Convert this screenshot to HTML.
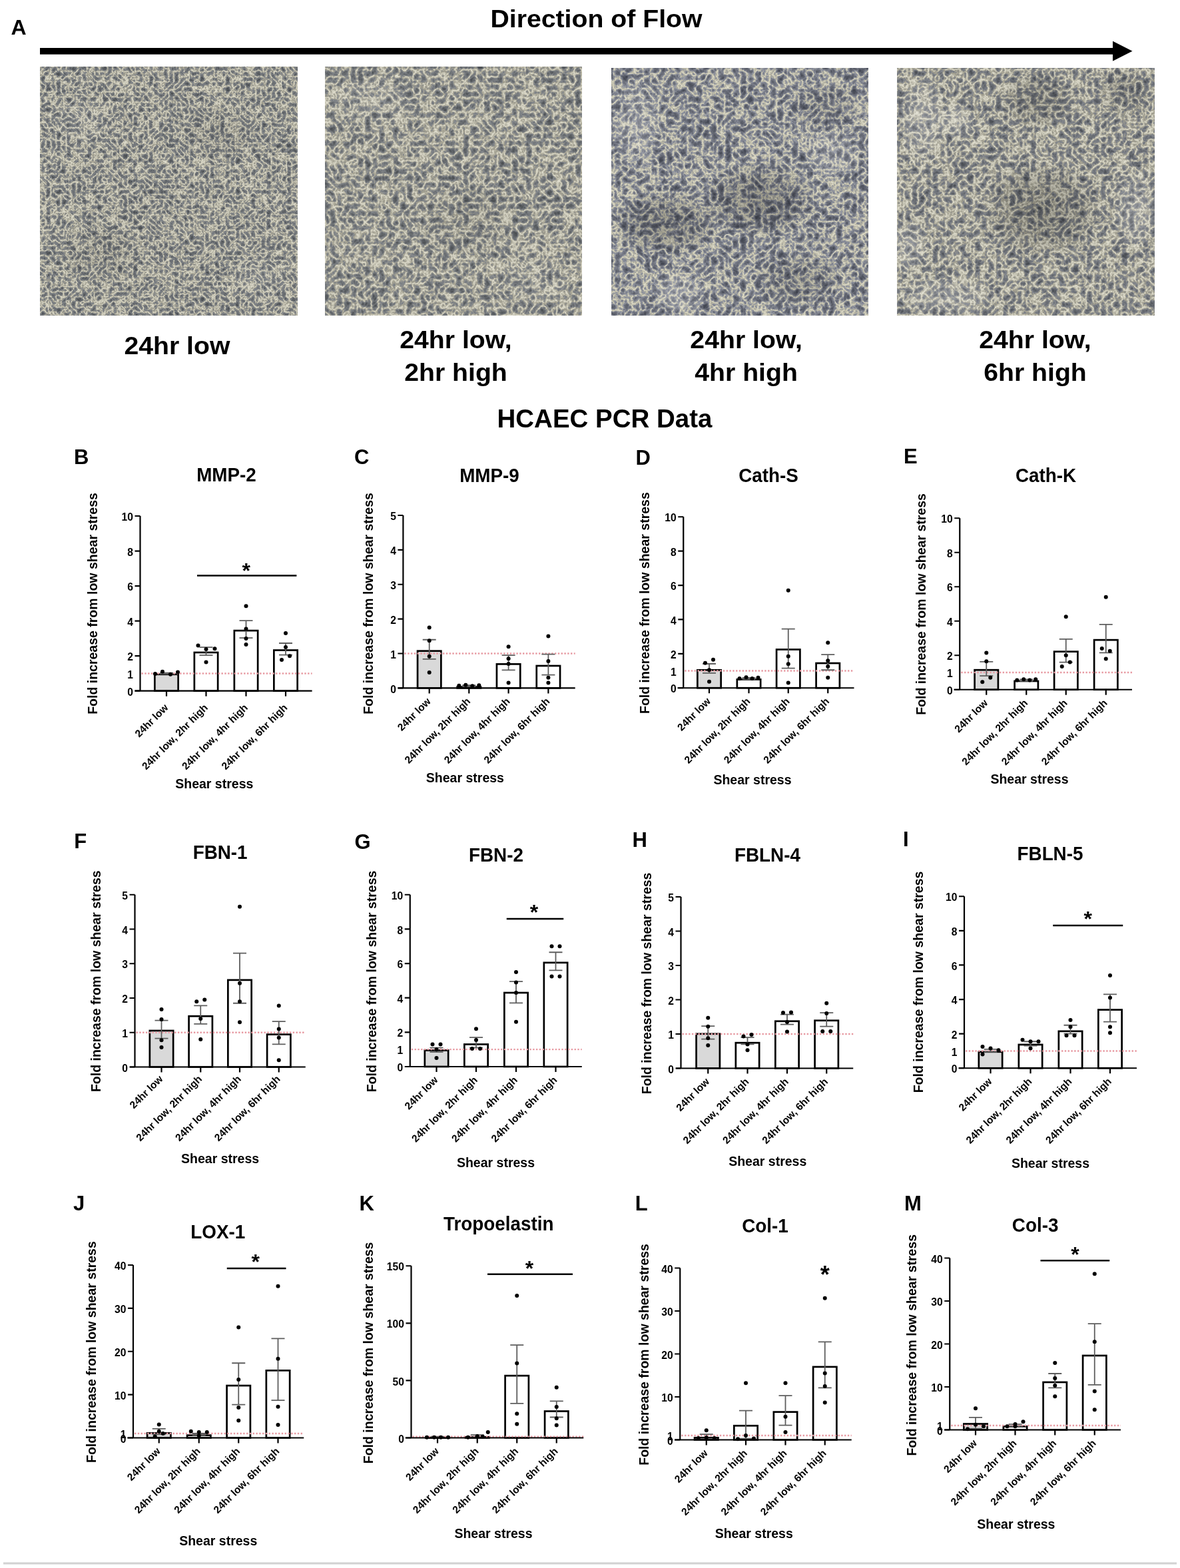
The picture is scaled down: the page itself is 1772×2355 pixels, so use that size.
<!DOCTYPE html>
<html><head><meta charset="utf-8"><title>HCAEC shear stress figure</title>
<style>
html,body{margin:0;padding:0;background:#fff;}
body{width:1772px;height:2355px;overflow:hidden;position:relative;}
svg{position:absolute;left:0;top:0;}
text{font-family:"Liberation Sans", Arial, Helvetica, sans-serif;}
</style></head><body>
<svg width="1772" height="2355" viewBox="0 0 1772 2355">
<defs>
<radialGradient id="bld"><stop offset="0" stop-color="#000" stop-opacity="0.5"/><stop offset="0.6" stop-color="#000" stop-opacity="0.3"/><stop offset="1" stop-color="#000" stop-opacity="0"/></radialGradient>
<radialGradient id="bll"><stop offset="0" stop-color="#fff" stop-opacity="0.5"/><stop offset="0.6" stop-color="#fff" stop-opacity="0.3"/><stop offset="1" stop-color="#fff" stop-opacity="0"/></radialGradient>
<clipPath id="clip0"><rect x="60" y="100" width="387" height="374"/></clipPath>
<filter id="mic0" x="60" y="100" width="387" height="374" filterUnits="userSpaceOnUse" color-interpolation-filters="sRGB">
<feTurbulence type="turbulence" baseFrequency="0.13" numOctaves="3" seed="3"/>
<feColorMatrix type="matrix" values="0 0 0 1.25 0  0 0 0 1.25 0  0 0 0 1.25 0  0 0 0 0 1"/>
<feComponentTransfer><feFuncR type="table" tableValues="0.910 0.840 0.730 0.630 0.525 0.465 0.415 0.365 0.325 0.295"/><feFuncG type="table" tableValues="0.900 0.830 0.720 0.620 0.540 0.480 0.430 0.380 0.340 0.310"/><feFuncB type="table" tableValues="0.840 0.770 0.660 0.560 0.555 0.495 0.445 0.395 0.355 0.325"/></feComponentTransfer>
<feGaussianBlur stdDeviation="0.45"/>
</filter>
<clipPath id="clip1"><rect x="488" y="100" width="386" height="374"/></clipPath>
<filter id="mic1" x="488" y="100" width="386" height="374" filterUnits="userSpaceOnUse" color-interpolation-filters="sRGB">
<feTurbulence type="turbulence" baseFrequency="0.095" numOctaves="3" seed="7"/>
<feColorMatrix type="matrix" values="0 0 0 1.2 0  0 0 0 1.2 0  0 0 0 1.2 0  0 0 0 0 1"/>
<feComponentTransfer><feFuncR type="table" tableValues="0.910 0.840 0.730 0.630 0.525 0.465 0.415 0.365 0.325 0.295"/><feFuncG type="table" tableValues="0.900 0.830 0.720 0.620 0.540 0.480 0.430 0.380 0.340 0.310"/><feFuncB type="table" tableValues="0.840 0.770 0.660 0.560 0.555 0.495 0.445 0.395 0.355 0.325"/></feComponentTransfer>
<feGaussianBlur stdDeviation="0.45"/>
</filter>
<clipPath id="clip2"><rect x="918" y="102" width="386" height="372"/></clipPath>
<filter id="mic2" x="918" y="102" width="386" height="372" filterUnits="userSpaceOnUse" color-interpolation-filters="sRGB">
<feTurbulence type="turbulence" baseFrequency="0.09" numOctaves="3" seed="4"/>
<feColorMatrix type="matrix" values="0 0 0 1.25 0  0 0 0 1.25 0  0 0 0 1.25 0  0 0 0 0 1"/>
<feComponentTransfer><feFuncR type="table" tableValues="0.910 0.830 0.710 0.575 0.485 0.425 0.375 0.335 0.295 0.265"/><feFuncG type="table" tableValues="0.900 0.820 0.700 0.590 0.500 0.440 0.390 0.350 0.310 0.280"/><feFuncB type="table" tableValues="0.830 0.750 0.630 0.635 0.545 0.485 0.435 0.395 0.355 0.325"/></feComponentTransfer>
<feGaussianBlur stdDeviation="0.45"/>
</filter>
<clipPath id="clip3"><rect x="1347" y="102" width="387" height="372"/></clipPath>
<filter id="mic3" x="1347" y="102" width="387" height="372" filterUnits="userSpaceOnUse" color-interpolation-filters="sRGB">
<feTurbulence type="turbulence" baseFrequency="0.095" numOctaves="3" seed="6"/>
<feColorMatrix type="matrix" values="0 0 0 1.2 0  0 0 0 1.2 0  0 0 0 1.2 0  0 0 0 0 1"/>
<feComponentTransfer><feFuncR type="table" tableValues="0.910 0.840 0.730 0.620 0.515 0.455 0.405 0.355 0.315 0.285"/><feFuncG type="table" tableValues="0.900 0.830 0.720 0.610 0.530 0.470 0.420 0.370 0.330 0.300"/><feFuncB type="table" tableValues="0.840 0.770 0.660 0.550 0.555 0.495 0.445 0.395 0.355 0.325"/></feComponentTransfer>
<feGaussianBlur stdDeviation="0.45"/>
</filter>
</defs>
<rect width="1772" height="2355" fill="#fff"/>
<text x="16.50" y="52.00" font-size="32" text-anchor="start" font-weight="bold" fill="#000" >A</text>
<text x="895.50" y="41.20" font-size="37" text-anchor="middle" font-weight="bold" fill="#000" transform="translate(895.5 0) scale(1.06 1) translate(-895.5 0)">Direction of Flow</text>
<rect x="60" y="72" width="1612" height="9.7" fill="#000"/>
<polygon points="1671,61.7 1700.5,76.8 1671,91.7" fill="#000"/>
<g clip-path="url(#clip0)">
<rect x="60" y="100" width="387" height="374" filter="url(#mic0)"/>
<ellipse cx="150" cy="380" rx="70" ry="50" fill="url(#bld)" opacity="0.140"/>
<ellipse cx="330" cy="200" rx="60" ry="50" fill="url(#bld)" opacity="0.120"/>
<ellipse cx="120" cy="180" rx="50" ry="40" fill="url(#bll)" opacity="0.140"/>
<ellipse cx="390" cy="420" rx="50" ry="40" fill="url(#bll)" opacity="0.140"/>
</g>
<g clip-path="url(#clip1)">
<rect x="488" y="100" width="386" height="374" filter="url(#mic1)"/>
<ellipse cx="560" cy="150" rx="70" ry="40" fill="url(#bll)" opacity="0.180"/>
<ellipse cx="700" cy="330" rx="80" ry="60" fill="url(#bld)" opacity="0.120"/>
<ellipse cx="800" cy="420" rx="60" ry="40" fill="url(#bll)" opacity="0.120"/>
</g>
<g clip-path="url(#clip2)">
<rect x="918" y="102" width="386" height="372" filter="url(#mic2)"/>
<ellipse cx="1000" cy="335" rx="85" ry="50" fill="url(#bld)" opacity="0.440"/>
<ellipse cx="1140" cy="300" rx="90" ry="60" fill="url(#bld)" opacity="0.440"/>
<ellipse cx="1200" cy="420" rx="70" ry="45" fill="url(#bld)" opacity="0.280"/>
<ellipse cx="1240" cy="160" rx="60" ry="40" fill="url(#bld)" opacity="0.200"/>
<ellipse cx="955" cy="185" rx="40" ry="75" fill="url(#bll)" opacity="0.320"/>
<ellipse cx="1020" cy="440" rx="45" ry="35" fill="url(#bll)" opacity="0.360"/>
<ellipse cx="1250" cy="230" rx="45" ry="40" fill="url(#bll)" opacity="0.320"/>
</g>
<g clip-path="url(#clip3)">
<rect x="1347" y="102" width="387" height="372" filter="url(#mic3)"/>
<ellipse cx="1565" cy="315" rx="95" ry="75" fill="url(#bld)" opacity="0.440"/>
<ellipse cx="1555" cy="150" rx="65" ry="45" fill="url(#bld)" opacity="0.320"/>
<ellipse cx="1690" cy="140" rx="45" ry="40" fill="url(#bld)" opacity="0.240"/>
<ellipse cx="1385" cy="180" rx="40" ry="70" fill="url(#bll)" opacity="0.400"/>
<ellipse cx="1437" cy="182" rx="30" ry="30" fill="url(#bll)" opacity="0.400"/>
<ellipse cx="1365" cy="368" rx="30" ry="45" fill="url(#bll)" opacity="0.360"/>
<ellipse cx="1705" cy="315" rx="35" ry="65" fill="url(#bll)" opacity="0.400"/>
<ellipse cx="1420" cy="445" rx="80" ry="32" fill="url(#bll)" opacity="0.360"/>
</g>
<text x="265.90" y="532.30" font-size="37" text-anchor="middle" font-weight="bold" fill="#000" transform="translate(265.9 0) scale(1.06 1) translate(-265.9 0)">24hr low</text>
<text x="684.50" y="523.50" font-size="37" text-anchor="middle" font-weight="bold" fill="#000" transform="translate(684.5 0) scale(1.06 1) translate(-684.5 0)">24hr low,</text>
<text x="684.50" y="572.10" font-size="37" text-anchor="middle" font-weight="bold" fill="#000" transform="translate(684.5 0) scale(1.06 1) translate(-684.5 0)">2hr high</text>
<text x="1120.60" y="523.50" font-size="37" text-anchor="middle" font-weight="bold" fill="#000" transform="translate(1120.6 0) scale(1.06 1) translate(-1120.6 0)">24hr low,</text>
<text x="1120.60" y="572.10" font-size="37" text-anchor="middle" font-weight="bold" fill="#000" transform="translate(1120.6 0) scale(1.06 1) translate(-1120.6 0)">4hr high</text>
<text x="1554.50" y="523.50" font-size="37" text-anchor="middle" font-weight="bold" fill="#000" transform="translate(1554.5 0) scale(1.06 1) translate(-1554.5 0)">24hr low,</text>
<text x="1554.50" y="572.10" font-size="37" text-anchor="middle" font-weight="bold" fill="#000" transform="translate(1554.5 0) scale(1.06 1) translate(-1554.5 0)">6hr high</text>
<text x="908.00" y="641.50" font-size="38.5" text-anchor="middle" font-weight="bold" fill="#000" >HCAEC PCR Data</text>
<text x="111.00" y="697.00" font-size="31" text-anchor="start" font-weight="bold" fill="#000" >B</text>
<text x="340.00" y="723.50" font-size="29" text-anchor="middle" font-weight="bold" fill="#000" transform="translate(340.00 0) scale(0.96 1) translate(-340.00 0)">MMP-2</text>
<rect x="232.35" y="1012.78" width="35.30" height="24.92" fill="#d9d9d9" stroke="#000" stroke-width="2.7"/>
<rect x="291.85" y="979.94" width="35.30" height="57.76" fill="#fff" stroke="#000" stroke-width="2.7"/>
<rect x="351.85" y="947.11" width="35.30" height="90.60" fill="#fff" stroke="#000" stroke-width="2.7"/>
<rect x="411.35" y="976.53" width="35.30" height="61.17" fill="#fff" stroke="#000" stroke-width="2.7"/>
<line x1="212.50" y1="1011.43" x2="468.60" y2="1011.43" stroke="#e79aa2" stroke-width="2.4" stroke-dasharray="2.4 2.4"/>
<path d="M250.00 1012.22V1010.64M240.00 1010.64H260.00M240.00 1012.22H260.00" stroke="#5e5e5e" stroke-width="1.8" fill="none"/>
<path d="M309.50 984.11V972.03M299.50 972.03H319.50M299.50 984.11H319.50" stroke="#5e5e5e" stroke-width="1.8" fill="none"/>
<path d="M369.50 958.10V932.09M359.50 932.09H379.50M359.50 958.10H379.50" stroke="#5e5e5e" stroke-width="1.8" fill="none"/>
<path d="M429.00 983.58V965.98M419.00 965.98H439.00M419.00 983.58H439.00" stroke="#5e5e5e" stroke-width="1.8" fill="none"/>
<circle cx="233.00" cy="1011.96" r="3.0"/>
<circle cx="244.00" cy="1008.80" r="3.0"/>
<circle cx="256.00" cy="1012.74" r="3.0"/>
<circle cx="267.00" cy="1009.59" r="3.0"/>
<circle cx="297.50" cy="969.40" r="3.0"/>
<circle cx="309.50" cy="974.91" r="3.0"/>
<circle cx="322.50" cy="974.13" r="3.0"/>
<circle cx="309.50" cy="994.62" r="3.0"/>
<circle cx="369.50" cy="910.29" r="3.0"/>
<circle cx="369.50" cy="944.44" r="3.0"/>
<circle cx="369.50" cy="958.89" r="3.0"/>
<circle cx="369.50" cy="968.08" r="3.0"/>
<circle cx="429.00" cy="951.01" r="3.0"/>
<circle cx="429.00" cy="972.03" r="3.0"/>
<circle cx="423.00" cy="990.94" r="3.0"/>
<circle cx="435.00" cy="985.16" r="3.0"/>
<path d="M210.50 775.00V1037.70M202.50 1037.70H468.60" stroke="#000" stroke-width="2.2" fill="none"/>
<path d="M202.50 1037.70H210.50M202.50 985.16H210.50M202.50 932.62H210.50M202.50 880.08H210.50M202.50 827.54H210.50M202.50 775.00H210.50" stroke="#000" stroke-width="2.2"/>
<text x="200.00" y="1044.81" font-size="16.5" text-anchor="end" font-weight="bold" fill="#000" transform="translate(200.00 0) scale(0.95 1) translate(-200.00 0)">0</text>
<text x="200.00" y="1018.54" font-size="16.5" text-anchor="end" font-weight="bold" fill="#000" transform="translate(200.00 0) scale(0.95 1) translate(-200.00 0)">1</text>
<text x="200.00" y="992.27" font-size="16.5" text-anchor="end" font-weight="bold" fill="#000" transform="translate(200.00 0) scale(0.95 1) translate(-200.00 0)">2</text>
<text x="200.00" y="939.73" font-size="16.5" text-anchor="end" font-weight="bold" fill="#000" transform="translate(200.00 0) scale(0.95 1) translate(-200.00 0)">4</text>
<text x="200.00" y="887.19" font-size="16.5" text-anchor="end" font-weight="bold" fill="#000" transform="translate(200.00 0) scale(0.95 1) translate(-200.00 0)">6</text>
<text x="200.00" y="834.65" font-size="16.5" text-anchor="end" font-weight="bold" fill="#000" transform="translate(200.00 0) scale(0.95 1) translate(-200.00 0)">8</text>
<text x="200.00" y="782.11" font-size="16.5" text-anchor="end" font-weight="bold" fill="#000" transform="translate(200.00 0) scale(0.95 1) translate(-200.00 0)">10</text>
<path d="M250.00 1037.70V1045.70M309.50 1037.70V1045.70M369.50 1037.70V1045.70M429.00 1037.70V1045.70" stroke="#000" stroke-width="2.2"/>
<text x="253.50" y="1063.70" font-size="15.5" text-anchor="end" font-weight="bold" fill="#000" transform="rotate(-45 253.50 1063.70)">24hr low</text>
<text x="313.00" y="1063.70" font-size="15.5" text-anchor="end" font-weight="bold" fill="#000" transform="rotate(-45 313.00 1063.70)">24hr low, 2hr high</text>
<text x="373.00" y="1063.70" font-size="15.5" text-anchor="end" font-weight="bold" fill="#000" transform="rotate(-45 373.00 1063.70)">24hr low, 4hr high</text>
<text x="432.50" y="1063.70" font-size="15.5" text-anchor="end" font-weight="bold" fill="#000" transform="rotate(-45 432.50 1063.70)">24hr low, 6hr high</text>
<line x1="296" y1="864.5" x2="445.4" y2="864.5" stroke="#000" stroke-width="2.6"/>
<text x="369.70" y="867.80" font-size="32" text-anchor="middle" font-weight="bold" fill="#000" >*</text>
<text x="321.80" y="1183.50" font-size="19.5" text-anchor="middle" font-weight="bold" fill="#000" >Shear stress</text>
<text x="0.00" y="0.00" font-size="19.5" text-anchor="middle" font-weight="bold" fill="#000" transform="translate(146.02 906.50) rotate(-90)">Fold increase from low shear stress</text>
<text x="532.00" y="697.00" font-size="31" text-anchor="start" font-weight="bold" fill="#000" >C</text>
<text x="735.00" y="724.00" font-size="29" text-anchor="middle" font-weight="bold" fill="#000" transform="translate(735.00 0) scale(0.96 1) translate(-735.00 0)">MMP-9</text>
<rect x="627.05" y="977.68" width="35.30" height="55.72" fill="#d9d9d9" stroke="#000" stroke-width="2.7"/>
<rect x="686.65" y="1031.64" width="35.30" height="1.76" fill="#fff" stroke="#000" stroke-width="2.7"/>
<rect x="745.95" y="997.40" width="35.30" height="36.00" fill="#fff" stroke="#000" stroke-width="2.7"/>
<rect x="805.75" y="999.99" width="35.30" height="33.41" fill="#fff" stroke="#000" stroke-width="2.7"/>
<line x1="607.40" y1="981.52" x2="863.70" y2="981.52" stroke="#e79aa2" stroke-width="2.4" stroke-dasharray="2.4 2.4"/>
<path d="M644.70 989.82V960.77M634.70 960.77H654.70M634.70 989.82H654.70" stroke="#5e5e5e" stroke-width="1.8" fill="none"/>
<path d="M704.30 1031.32V1029.25M694.30 1029.25H714.30M694.30 1031.32H714.30" stroke="#5e5e5e" stroke-width="1.8" fill="none"/>
<path d="M763.60 1006.42V984.11M753.60 984.11H773.60M753.60 1006.42H773.60" stroke="#5e5e5e" stroke-width="1.8" fill="none"/>
<path d="M823.40 1013.69V982.56M813.40 982.56H833.40M813.40 1013.69H833.40" stroke="#5e5e5e" stroke-width="1.8" fill="none"/>
<circle cx="644.70" cy="942.61" r="3.0"/>
<circle cx="644.70" cy="962.32" r="3.0"/>
<circle cx="644.70" cy="985.67" r="3.0"/>
<circle cx="644.70" cy="1010.05" r="3.0"/>
<circle cx="689.30" cy="1029.77" r="3.0"/>
<circle cx="699.30" cy="1028.73" r="3.0"/>
<circle cx="709.30" cy="1030.29" r="3.0"/>
<circle cx="719.30" cy="1029.25" r="3.0"/>
<circle cx="763.60" cy="971.14" r="3.0"/>
<circle cx="763.60" cy="989.30" r="3.0"/>
<circle cx="763.60" cy="997.08" r="3.0"/>
<circle cx="763.60" cy="1025.62" r="3.0"/>
<circle cx="823.40" cy="955.58" r="3.0"/>
<circle cx="823.40" cy="992.93" r="3.0"/>
<circle cx="823.40" cy="1017.84" r="3.0"/>
<circle cx="823.40" cy="1025.62" r="3.0"/>
<path d="M605.40 774.00V1033.40M597.60 1033.40H863.70" stroke="#000" stroke-width="2.2" fill="none"/>
<path d="M597.40 1033.40H605.40M597.40 981.52H605.40M597.40 929.64H605.40M597.40 877.76H605.40M597.40 825.88H605.40M597.40 774.00H605.40" stroke="#000" stroke-width="2.2"/>
<text x="594.90" y="1040.51" font-size="16.5" text-anchor="end" font-weight="bold" fill="#000" transform="translate(594.90 0) scale(0.95 1) translate(-594.90 0)">0</text>
<text x="594.90" y="988.63" font-size="16.5" text-anchor="end" font-weight="bold" fill="#000" transform="translate(594.90 0) scale(0.95 1) translate(-594.90 0)">1</text>
<text x="594.90" y="936.75" font-size="16.5" text-anchor="end" font-weight="bold" fill="#000" transform="translate(594.90 0) scale(0.95 1) translate(-594.90 0)">2</text>
<text x="594.90" y="884.87" font-size="16.5" text-anchor="end" font-weight="bold" fill="#000" transform="translate(594.90 0) scale(0.95 1) translate(-594.90 0)">3</text>
<text x="594.90" y="832.99" font-size="16.5" text-anchor="end" font-weight="bold" fill="#000" transform="translate(594.90 0) scale(0.95 1) translate(-594.90 0)">4</text>
<text x="594.90" y="781.11" font-size="16.5" text-anchor="end" font-weight="bold" fill="#000" transform="translate(594.90 0) scale(0.95 1) translate(-594.90 0)">5</text>
<path d="M644.70 1033.40V1041.40M704.30 1033.40V1041.40M763.60 1033.40V1041.40M823.40 1033.40V1041.40" stroke="#000" stroke-width="2.2"/>
<text x="647.70" y="1054.40" font-size="15.5" text-anchor="end" font-weight="bold" fill="#000" transform="rotate(-45 647.70 1054.40)">24hr low</text>
<text x="707.30" y="1054.40" font-size="15.5" text-anchor="end" font-weight="bold" fill="#000" transform="rotate(-45 707.30 1054.40)">24hr low, 2hr high</text>
<text x="766.60" y="1054.40" font-size="15.5" text-anchor="end" font-weight="bold" fill="#000" transform="rotate(-45 766.60 1054.40)">24hr low, 4hr high</text>
<text x="826.40" y="1054.40" font-size="15.5" text-anchor="end" font-weight="bold" fill="#000" transform="rotate(-45 826.40 1054.40)">24hr low, 6hr high</text>
<text x="698.40" y="1175.00" font-size="19.5" text-anchor="middle" font-weight="bold" fill="#000" >Shear stress</text>
<text x="0.00" y="0.00" font-size="19.5" text-anchor="middle" font-weight="bold" fill="#000" transform="translate(560.02 906.50) rotate(-90)">Fold increase from low shear stress</text>
<text x="954.50" y="697.50" font-size="31" text-anchor="start" font-weight="bold" fill="#000" >D</text>
<text x="1154.00" y="723.75" font-size="29" text-anchor="middle" font-weight="bold" fill="#000" transform="translate(1154.00 0) scale(0.96 1) translate(-1154.00 0)">Cath-S</text>
<rect x="1047.35" y="1006.33" width="35.30" height="26.92" fill="#d9d9d9" stroke="#000" stroke-width="2.7"/>
<rect x="1106.85" y="1020.47" width="35.30" height="12.79" fill="#fff" stroke="#000" stroke-width="2.7"/>
<rect x="1166.10" y="975.49" width="35.30" height="57.76" fill="#fff" stroke="#000" stroke-width="2.7"/>
<rect x="1225.60" y="996.05" width="35.30" height="37.20" fill="#fff" stroke="#000" stroke-width="2.7"/>
<line x1="1028.25" y1="1007.55" x2="1282.50" y2="1007.55" stroke="#e79aa2" stroke-width="2.4" stroke-dasharray="2.4 2.4"/>
<path d="M1065.00 1010.89V997.01M1055.00 997.01H1075.00M1055.00 1010.89H1075.00" stroke="#5e5e5e" stroke-width="1.8" fill="none"/>
<path d="M1124.50 1020.40V1017.83M1114.50 1017.83H1134.50M1114.50 1020.40H1134.50" stroke="#5e5e5e" stroke-width="1.8" fill="none"/>
<path d="M1183.75 1003.70V944.59M1173.75 944.59H1193.75M1173.75 1003.70H1193.75" stroke="#5e5e5e" stroke-width="1.8" fill="none"/>
<path d="M1243.25 1006.26V983.13M1233.25 983.13H1253.25M1233.25 1006.26H1253.25" stroke="#5e5e5e" stroke-width="1.8" fill="none"/>
<circle cx="1059.00" cy="995.73" r="3.0"/>
<circle cx="1071.00" cy="990.85" r="3.0"/>
<circle cx="1065.00" cy="1006.26" r="3.0"/>
<circle cx="1065.00" cy="1023.74" r="3.0"/>
<circle cx="1110.50" cy="1019.12" r="3.0"/>
<circle cx="1120.50" cy="1017.32" r="3.0"/>
<circle cx="1129.50" cy="1019.12" r="3.0"/>
<circle cx="1138.50" cy="1017.83" r="3.0"/>
<circle cx="1183.75" cy="886.76" r="3.0"/>
<circle cx="1183.75" cy="985.71" r="3.0"/>
<circle cx="1183.75" cy="997.27" r="3.0"/>
<circle cx="1183.75" cy="1025.54" r="3.0"/>
<circle cx="1243.25" cy="965.14" r="3.0"/>
<circle cx="1243.25" cy="992.13" r="3.0"/>
<circle cx="1243.25" cy="1001.12" r="3.0"/>
<circle cx="1243.25" cy="1017.83" r="3.0"/>
<path d="M1026.25 776.25V1033.25M1017.50 1033.25H1282.50" stroke="#000" stroke-width="2.2" fill="none"/>
<path d="M1018.25 1033.25H1026.25M1018.25 981.85H1026.25M1018.25 930.45H1026.25M1018.25 879.05H1026.25M1018.25 827.65H1026.25M1018.25 776.25H1026.25" stroke="#000" stroke-width="2.2"/>
<text x="1015.75" y="1040.36" font-size="16.5" text-anchor="end" font-weight="bold" fill="#000" transform="translate(1015.75 0) scale(0.95 1) translate(-1015.75 0)">0</text>
<text x="1015.75" y="1014.66" font-size="16.5" text-anchor="end" font-weight="bold" fill="#000" transform="translate(1015.75 0) scale(0.95 1) translate(-1015.75 0)">1</text>
<text x="1015.75" y="988.96" font-size="16.5" text-anchor="end" font-weight="bold" fill="#000" transform="translate(1015.75 0) scale(0.95 1) translate(-1015.75 0)">2</text>
<text x="1015.75" y="937.56" font-size="16.5" text-anchor="end" font-weight="bold" fill="#000" transform="translate(1015.75 0) scale(0.95 1) translate(-1015.75 0)">4</text>
<text x="1015.75" y="886.16" font-size="16.5" text-anchor="end" font-weight="bold" fill="#000" transform="translate(1015.75 0) scale(0.95 1) translate(-1015.75 0)">6</text>
<text x="1015.75" y="834.76" font-size="16.5" text-anchor="end" font-weight="bold" fill="#000" transform="translate(1015.75 0) scale(0.95 1) translate(-1015.75 0)">8</text>
<text x="1015.75" y="783.36" font-size="16.5" text-anchor="end" font-weight="bold" fill="#000" transform="translate(1015.75 0) scale(0.95 1) translate(-1015.75 0)">10</text>
<path d="M1065.00 1033.25V1041.25M1124.50 1033.25V1041.25M1183.75 1033.25V1041.25M1243.25 1033.25V1041.25" stroke="#000" stroke-width="2.2"/>
<text x="1068.00" y="1054.25" font-size="15.5" text-anchor="end" font-weight="bold" fill="#000" transform="rotate(-45 1068.00 1054.25)">24hr low</text>
<text x="1127.50" y="1054.25" font-size="15.5" text-anchor="end" font-weight="bold" fill="#000" transform="rotate(-45 1127.50 1054.25)">24hr low, 2hr high</text>
<text x="1186.75" y="1054.25" font-size="15.5" text-anchor="end" font-weight="bold" fill="#000" transform="rotate(-45 1186.75 1054.25)">24hr low, 4hr high</text>
<text x="1246.25" y="1054.25" font-size="15.5" text-anchor="end" font-weight="bold" fill="#000" transform="rotate(-45 1246.25 1054.25)">24hr low, 6hr high</text>
<text x="1130.00" y="1178.00" font-size="19.5" text-anchor="middle" font-weight="bold" fill="#000" >Shear stress</text>
<text x="0.00" y="0.00" font-size="19.5" text-anchor="middle" font-weight="bold" fill="#000" transform="translate(975.02 905.60) rotate(-90)">Fold increase from low shear stress</text>
<text x="1357.00" y="696.25" font-size="31" text-anchor="start" font-weight="bold" fill="#000" >E</text>
<text x="1570.60" y="723.75" font-size="29" text-anchor="middle" font-weight="bold" fill="#000" transform="translate(1570.60 0) scale(0.96 1) translate(-1570.60 0)">Cath-K</text>
<rect x="1463.60" y="1006.20" width="35.30" height="29.55" fill="#d9d9d9" stroke="#000" stroke-width="2.7"/>
<rect x="1523.60" y="1022.94" width="35.30" height="12.81" fill="#fff" stroke="#000" stroke-width="2.7"/>
<rect x="1583.10" y="978.65" width="35.30" height="57.10" fill="#fff" stroke="#000" stroke-width="2.7"/>
<rect x="1643.10" y="961.14" width="35.30" height="74.61" fill="#fff" stroke="#000" stroke-width="2.7"/>
<line x1="1443.25" y1="1010.00" x2="1700.00" y2="1010.00" stroke="#e79aa2" stroke-width="2.4" stroke-dasharray="2.4 2.4"/>
<path d="M1481.25 1015.15V993.78M1471.25 993.78H1491.25M1471.25 1015.15H1491.25" stroke="#5e5e5e" stroke-width="1.8" fill="none"/>
<path d="M1541.25 1022.88V1020.30M1531.25 1020.30H1551.25M1531.25 1022.88H1551.25" stroke="#5e5e5e" stroke-width="1.8" fill="none"/>
<path d="M1600.75 994.55V959.79M1590.75 959.79H1610.75M1590.75 994.55H1610.75" stroke="#5e5e5e" stroke-width="1.8" fill="none"/>
<path d="M1660.75 980.39V937.90M1650.75 937.90H1670.75M1650.75 980.39H1670.75" stroke="#5e5e5e" stroke-width="1.8" fill="none"/>
<circle cx="1481.25" cy="980.39" r="3.0"/>
<circle cx="1481.25" cy="993.26" r="3.0"/>
<circle cx="1475.25" cy="1024.16" r="3.0"/>
<circle cx="1487.25" cy="1017.73" r="3.0"/>
<circle cx="1527.25" cy="1021.59" r="3.0"/>
<circle cx="1537.25" cy="1020.30" r="3.0"/>
<circle cx="1546.25" cy="1021.59" r="3.0"/>
<circle cx="1555.25" cy="1020.30" r="3.0"/>
<circle cx="1600.75" cy="926.31" r="3.0"/>
<circle cx="1600.75" cy="984.25" r="3.0"/>
<circle cx="1594.75" cy="1000.99" r="3.0"/>
<circle cx="1606.75" cy="994.55" r="3.0"/>
<circle cx="1660.75" cy="896.70" r="3.0"/>
<circle cx="1654.75" cy="973.95" r="3.0"/>
<circle cx="1666.75" cy="977.81" r="3.0"/>
<circle cx="1660.75" cy="989.40" r="3.0"/>
<path d="M1441.25 778.25V1035.75M1432.50 1035.75H1700.00" stroke="#000" stroke-width="2.2" fill="none"/>
<path d="M1433.25 1035.75H1441.25M1433.25 984.25H1441.25M1433.25 932.75H1441.25M1433.25 881.25H1441.25M1433.25 829.75H1441.25M1433.25 778.25H1441.25" stroke="#000" stroke-width="2.2"/>
<text x="1430.75" y="1042.86" font-size="16.5" text-anchor="end" font-weight="bold" fill="#000" transform="translate(1430.75 0) scale(0.95 1) translate(-1430.75 0)">0</text>
<text x="1430.75" y="1017.11" font-size="16.5" text-anchor="end" font-weight="bold" fill="#000" transform="translate(1430.75 0) scale(0.95 1) translate(-1430.75 0)">1</text>
<text x="1430.75" y="991.36" font-size="16.5" text-anchor="end" font-weight="bold" fill="#000" transform="translate(1430.75 0) scale(0.95 1) translate(-1430.75 0)">2</text>
<text x="1430.75" y="939.86" font-size="16.5" text-anchor="end" font-weight="bold" fill="#000" transform="translate(1430.75 0) scale(0.95 1) translate(-1430.75 0)">4</text>
<text x="1430.75" y="888.36" font-size="16.5" text-anchor="end" font-weight="bold" fill="#000" transform="translate(1430.75 0) scale(0.95 1) translate(-1430.75 0)">6</text>
<text x="1430.75" y="836.86" font-size="16.5" text-anchor="end" font-weight="bold" fill="#000" transform="translate(1430.75 0) scale(0.95 1) translate(-1430.75 0)">8</text>
<text x="1430.75" y="785.36" font-size="16.5" text-anchor="end" font-weight="bold" fill="#000" transform="translate(1430.75 0) scale(0.95 1) translate(-1430.75 0)">10</text>
<path d="M1481.25 1035.75V1043.75M1541.25 1035.75V1043.75M1600.75 1035.75V1043.75M1660.75 1035.75V1043.75" stroke="#000" stroke-width="2.2"/>
<text x="1484.25" y="1056.75" font-size="15.5" text-anchor="end" font-weight="bold" fill="#000" transform="rotate(-45 1484.25 1056.75)">24hr low</text>
<text x="1544.25" y="1056.75" font-size="15.5" text-anchor="end" font-weight="bold" fill="#000" transform="rotate(-45 1544.25 1056.75)">24hr low, 2hr high</text>
<text x="1603.75" y="1056.75" font-size="15.5" text-anchor="end" font-weight="bold" fill="#000" transform="rotate(-45 1603.75 1056.75)">24hr low, 4hr high</text>
<text x="1663.75" y="1056.75" font-size="15.5" text-anchor="end" font-weight="bold" fill="#000" transform="rotate(-45 1663.75 1056.75)">24hr low, 6hr high</text>
<text x="1546.00" y="1177.00" font-size="19.5" text-anchor="middle" font-weight="bold" fill="#000" >Shear stress</text>
<text x="0.00" y="0.00" font-size="19.5" text-anchor="middle" font-weight="bold" fill="#000" transform="translate(1389.52 907.50) rotate(-90)">Fold increase from low shear stress</text>
<text x="111.25" y="1273.75" font-size="31" text-anchor="start" font-weight="bold" fill="#000" >F</text>
<text x="330.60" y="1290.00" font-size="29" text-anchor="middle" font-weight="bold" fill="#000" transform="translate(330.60 0) scale(0.96 1) translate(-330.60 0)">FBN-1</text>
<rect x="224.85" y="1547.96" width="35.30" height="54.54" fill="#d9d9d9" stroke="#000" stroke-width="2.7"/>
<rect x="283.60" y="1526.22" width="35.30" height="76.28" fill="#fff" stroke="#000" stroke-width="2.7"/>
<rect x="342.35" y="1471.89" width="35.30" height="130.61" fill="#fff" stroke="#000" stroke-width="2.7"/>
<rect x="401.10" y="1553.65" width="35.30" height="48.85" fill="#fff" stroke="#000" stroke-width="2.7"/>
<line x1="204.50" y1="1550.75" x2="458.75" y2="1550.75" stroke="#e79aa2" stroke-width="2.4" stroke-dasharray="2.4 2.4"/>
<path d="M242.50 1559.55V1532.64M232.50 1532.64H252.50M232.50 1559.55H252.50" stroke="#5e5e5e" stroke-width="1.8" fill="none"/>
<path d="M301.25 1537.81V1510.38M291.25 1510.38H311.25M291.25 1537.81H311.25" stroke="#5e5e5e" stroke-width="1.8" fill="none"/>
<path d="M360.00 1506.76V1431.72M350.00 1431.72H370.00M350.00 1506.76H370.00" stroke="#5e5e5e" stroke-width="1.8" fill="none"/>
<path d="M418.75 1568.35V1534.19M408.75 1534.19H428.75M408.75 1568.35H428.75" stroke="#5e5e5e" stroke-width="1.8" fill="none"/>
<circle cx="242.50" cy="1516.08" r="3.0"/>
<circle cx="242.50" cy="1531.09" r="3.0"/>
<circle cx="242.50" cy="1562.13" r="3.0"/>
<circle cx="242.50" cy="1573.00" r="3.0"/>
<circle cx="295.25" cy="1504.17" r="3.0"/>
<circle cx="307.25" cy="1501.59" r="3.0"/>
<circle cx="301.25" cy="1530.05" r="3.0"/>
<circle cx="301.25" cy="1561.10" r="3.0"/>
<circle cx="360.00" cy="1361.86" r="3.0"/>
<circle cx="360.00" cy="1476.75" r="3.0"/>
<circle cx="360.00" cy="1504.17" r="3.0"/>
<circle cx="360.00" cy="1535.22" r="3.0"/>
<circle cx="418.75" cy="1510.38" r="3.0"/>
<circle cx="418.75" cy="1545.58" r="3.0"/>
<circle cx="418.75" cy="1558.51" r="3.0"/>
<circle cx="418.75" cy="1592.15" r="3.0"/>
<path d="M202.50 1343.75V1602.50M195.00 1602.50H458.75" stroke="#000" stroke-width="2.2" fill="none"/>
<path d="M194.50 1602.50H202.50M194.50 1550.75H202.50M194.50 1499.00H202.50M194.50 1447.25H202.50M194.50 1395.50H202.50M194.50 1343.75H202.50" stroke="#000" stroke-width="2.2"/>
<text x="192.00" y="1609.61" font-size="16.5" text-anchor="end" font-weight="bold" fill="#000" transform="translate(192.00 0) scale(0.95 1) translate(-192.00 0)">0</text>
<text x="192.00" y="1557.86" font-size="16.5" text-anchor="end" font-weight="bold" fill="#000" transform="translate(192.00 0) scale(0.95 1) translate(-192.00 0)">1</text>
<text x="192.00" y="1506.11" font-size="16.5" text-anchor="end" font-weight="bold" fill="#000" transform="translate(192.00 0) scale(0.95 1) translate(-192.00 0)">2</text>
<text x="192.00" y="1454.36" font-size="16.5" text-anchor="end" font-weight="bold" fill="#000" transform="translate(192.00 0) scale(0.95 1) translate(-192.00 0)">3</text>
<text x="192.00" y="1402.61" font-size="16.5" text-anchor="end" font-weight="bold" fill="#000" transform="translate(192.00 0) scale(0.95 1) translate(-192.00 0)">4</text>
<text x="192.00" y="1350.86" font-size="16.5" text-anchor="end" font-weight="bold" fill="#000" transform="translate(192.00 0) scale(0.95 1) translate(-192.00 0)">5</text>
<path d="M242.50 1602.50V1610.50M301.25 1602.50V1610.50M360.00 1602.50V1610.50M418.75 1602.50V1610.50" stroke="#000" stroke-width="2.2"/>
<text x="245.50" y="1621.50" font-size="15.5" text-anchor="end" font-weight="bold" fill="#000" transform="rotate(-45 245.50 1621.50)">24hr low</text>
<text x="304.25" y="1621.50" font-size="15.5" text-anchor="end" font-weight="bold" fill="#000" transform="rotate(-45 304.25 1621.50)">24hr low, 2hr high</text>
<text x="363.00" y="1621.50" font-size="15.5" text-anchor="end" font-weight="bold" fill="#000" transform="rotate(-45 363.00 1621.50)">24hr low, 4hr high</text>
<text x="421.75" y="1621.50" font-size="15.5" text-anchor="end" font-weight="bold" fill="#000" transform="rotate(-45 421.75 1621.50)">24hr low, 6hr high</text>
<text x="330.60" y="1746.75" font-size="19.5" text-anchor="middle" font-weight="bold" fill="#000" >Shear stress</text>
<text x="0.00" y="0.00" font-size="19.5" text-anchor="middle" font-weight="bold" fill="#000" transform="translate(151.42 1473.75) rotate(-90)">Fold increase from low shear stress</text>
<text x="532.50" y="1274.50" font-size="31" text-anchor="start" font-weight="bold" fill="#000" >G</text>
<text x="745.00" y="1293.75" font-size="29" text-anchor="middle" font-weight="bold" fill="#000" transform="translate(745.00 0) scale(0.96 1) translate(-745.00 0)">FBN-2</text>
<rect x="637.85" y="1577.52" width="35.30" height="24.47" fill="#d9d9d9" stroke="#000" stroke-width="2.7"/>
<rect x="697.35" y="1568.49" width="35.30" height="33.51" fill="#fff" stroke="#000" stroke-width="2.7"/>
<rect x="757.35" y="1491.01" width="35.30" height="110.99" fill="#fff" stroke="#000" stroke-width="2.7"/>
<rect x="816.85" y="1445.82" width="35.30" height="156.18" fill="#fff" stroke="#000" stroke-width="2.7"/>
<line x1="617.75" y1="1576.17" x2="873.75" y2="1576.17" stroke="#e79aa2" stroke-width="2.4" stroke-dasharray="2.4 2.4"/>
<path d="M655.50 1580.05V1573.59M645.50 1573.59H665.50M645.50 1580.05H665.50" stroke="#5e5e5e" stroke-width="1.8" fill="none"/>
<path d="M715.00 1573.59V1558.10M705.00 1558.10H725.00M705.00 1573.59H725.00" stroke="#5e5e5e" stroke-width="1.8" fill="none"/>
<path d="M775.00 1506.45V1474.17M765.00 1474.17H785.00M765.00 1506.45H785.00" stroke="#5e5e5e" stroke-width="1.8" fill="none"/>
<path d="M834.50 1457.38V1430.26M824.50 1430.26H844.50M824.50 1457.38H844.50" stroke="#5e5e5e" stroke-width="1.8" fill="none"/>
<circle cx="649.50" cy="1568.43" r="3.0"/>
<circle cx="661.50" cy="1568.43" r="3.0"/>
<circle cx="655.50" cy="1576.17" r="3.0"/>
<circle cx="655.50" cy="1589.09" r="3.0"/>
<circle cx="715.00" cy="1545.18" r="3.0"/>
<circle cx="715.00" cy="1561.97" r="3.0"/>
<circle cx="709.00" cy="1574.88" r="3.0"/>
<circle cx="721.00" cy="1574.88" r="3.0"/>
<circle cx="775.00" cy="1459.96" r="3.0"/>
<circle cx="775.00" cy="1475.46" r="3.0"/>
<circle cx="775.00" cy="1490.95" r="3.0"/>
<circle cx="775.00" cy="1534.86" r="3.0"/>
<circle cx="828.50" cy="1421.22" r="3.0"/>
<circle cx="840.50" cy="1421.22" r="3.0"/>
<circle cx="828.50" cy="1466.42" r="3.0"/>
<circle cx="840.50" cy="1466.42" r="3.0"/>
<path d="M615.75 1343.75V1602.00M608.75 1602.00H873.75" stroke="#000" stroke-width="2.2" fill="none"/>
<path d="M607.75 1602.00H615.75M607.75 1550.35H615.75M607.75 1498.70H615.75M607.75 1447.05H615.75M607.75 1395.40H615.75M607.75 1343.75H615.75" stroke="#000" stroke-width="2.2"/>
<text x="605.25" y="1609.11" font-size="16.5" text-anchor="end" font-weight="bold" fill="#000" transform="translate(605.25 0) scale(0.95 1) translate(-605.25 0)">0</text>
<text x="605.25" y="1583.28" font-size="16.5" text-anchor="end" font-weight="bold" fill="#000" transform="translate(605.25 0) scale(0.95 1) translate(-605.25 0)">1</text>
<text x="605.25" y="1557.46" font-size="16.5" text-anchor="end" font-weight="bold" fill="#000" transform="translate(605.25 0) scale(0.95 1) translate(-605.25 0)">2</text>
<text x="605.25" y="1505.81" font-size="16.5" text-anchor="end" font-weight="bold" fill="#000" transform="translate(605.25 0) scale(0.95 1) translate(-605.25 0)">4</text>
<text x="605.25" y="1454.16" font-size="16.5" text-anchor="end" font-weight="bold" fill="#000" transform="translate(605.25 0) scale(0.95 1) translate(-605.25 0)">6</text>
<text x="605.25" y="1402.51" font-size="16.5" text-anchor="end" font-weight="bold" fill="#000" transform="translate(605.25 0) scale(0.95 1) translate(-605.25 0)">8</text>
<text x="605.25" y="1350.86" font-size="16.5" text-anchor="end" font-weight="bold" fill="#000" transform="translate(605.25 0) scale(0.95 1) translate(-605.25 0)">10</text>
<path d="M655.50 1602.00V1610.00M715.00 1602.00V1610.00M775.00 1602.00V1610.00M834.50 1602.00V1610.00" stroke="#000" stroke-width="2.2"/>
<text x="658.50" y="1623.00" font-size="15.5" text-anchor="end" font-weight="bold" fill="#000" transform="rotate(-45 658.50 1623.00)">24hr low</text>
<text x="718.00" y="1623.00" font-size="15.5" text-anchor="end" font-weight="bold" fill="#000" transform="rotate(-45 718.00 1623.00)">24hr low, 2hr high</text>
<text x="778.00" y="1623.00" font-size="15.5" text-anchor="end" font-weight="bold" fill="#000" transform="rotate(-45 778.00 1623.00)">24hr low, 4hr high</text>
<text x="837.50" y="1623.00" font-size="15.5" text-anchor="end" font-weight="bold" fill="#000" transform="rotate(-45 837.50 1623.00)">24hr low, 6hr high</text>
<line x1="760.75" y1="1380" x2="846.25" y2="1380" stroke="#000" stroke-width="2.6"/>
<text x="802.00" y="1381.25" font-size="32" text-anchor="middle" font-weight="bold" fill="#000" >*</text>
<text x="744.50" y="1752.50" font-size="19.5" text-anchor="middle" font-weight="bold" fill="#000" >Shear stress</text>
<text x="0.00" y="0.00" font-size="19.5" text-anchor="middle" font-weight="bold" fill="#000" transform="translate(564.52 1474.00) rotate(-90)">Fold increase from low shear stress</text>
<text x="949.50" y="1272.00" font-size="31" text-anchor="start" font-weight="bold" fill="#000" >H</text>
<text x="1152.50" y="1293.75" font-size="29" text-anchor="middle" font-weight="bold" fill="#000" transform="translate(1152.50 0) scale(0.96 1) translate(-1152.50 0)">FBLN-4</text>
<rect x="1045.60" y="1552.80" width="35.30" height="51.70" fill="#d9d9d9" stroke="#000" stroke-width="2.7"/>
<rect x="1104.85" y="1566.19" width="35.30" height="38.30" fill="#fff" stroke="#000" stroke-width="2.7"/>
<rect x="1164.35" y="1533.75" width="35.30" height="70.75" fill="#fff" stroke="#000" stroke-width="2.7"/>
<rect x="1223.60" y="1532.72" width="35.30" height="71.78" fill="#fff" stroke="#000" stroke-width="2.7"/>
<line x1="1024.50" y1="1553.00" x2="1281.25" y2="1553.00" stroke="#e79aa2" stroke-width="2.4" stroke-dasharray="2.4 2.4"/>
<path d="M1063.25 1560.72V1541.15M1053.25 1541.15H1073.25M1053.25 1560.72H1073.25" stroke="#5e5e5e" stroke-width="1.8" fill="none"/>
<path d="M1122.50 1568.45V1558.15M1112.50 1558.15H1132.50M1112.50 1568.45H1132.50" stroke="#5e5e5e" stroke-width="1.8" fill="none"/>
<path d="M1182.00 1538.58V1523.64M1172.00 1523.64H1192.00M1172.00 1538.58H1192.00" stroke="#5e5e5e" stroke-width="1.8" fill="none"/>
<path d="M1241.25 1541.67V1521.07M1231.25 1521.07H1251.25M1231.25 1541.67H1251.25" stroke="#5e5e5e" stroke-width="1.8" fill="none"/>
<circle cx="1063.25" cy="1528.80" r="3.0"/>
<circle cx="1063.25" cy="1541.67" r="3.0"/>
<circle cx="1063.25" cy="1559.18" r="3.0"/>
<circle cx="1063.25" cy="1569.99" r="3.0"/>
<circle cx="1116.50" cy="1556.61" r="3.0"/>
<circle cx="1128.50" cy="1554.03" r="3.0"/>
<circle cx="1122.50" cy="1568.45" r="3.0"/>
<circle cx="1122.50" cy="1577.20" r="3.0"/>
<circle cx="1176.00" cy="1521.07" r="3.0"/>
<circle cx="1188.00" cy="1520.56" r="3.0"/>
<circle cx="1182.00" cy="1534.97" r="3.0"/>
<circle cx="1182.00" cy="1549.39" r="3.0"/>
<circle cx="1241.25" cy="1506.65" r="3.0"/>
<circle cx="1241.25" cy="1522.10" r="3.0"/>
<circle cx="1235.25" cy="1548.88" r="3.0"/>
<circle cx="1247.25" cy="1548.88" r="3.0"/>
<path d="M1022.50 1347.00V1604.50M1015.00 1604.50H1281.25" stroke="#000" stroke-width="2.2" fill="none"/>
<path d="M1014.50 1604.50H1022.50M1014.50 1553.00H1022.50M1014.50 1501.50H1022.50M1014.50 1450.00H1022.50M1014.50 1398.50H1022.50M1014.50 1347.00H1022.50" stroke="#000" stroke-width="2.2"/>
<text x="1012.00" y="1611.61" font-size="16.5" text-anchor="end" font-weight="bold" fill="#000" transform="translate(1012.00 0) scale(0.95 1) translate(-1012.00 0)">0</text>
<text x="1012.00" y="1560.11" font-size="16.5" text-anchor="end" font-weight="bold" fill="#000" transform="translate(1012.00 0) scale(0.95 1) translate(-1012.00 0)">1</text>
<text x="1012.00" y="1508.61" font-size="16.5" text-anchor="end" font-weight="bold" fill="#000" transform="translate(1012.00 0) scale(0.95 1) translate(-1012.00 0)">2</text>
<text x="1012.00" y="1457.11" font-size="16.5" text-anchor="end" font-weight="bold" fill="#000" transform="translate(1012.00 0) scale(0.95 1) translate(-1012.00 0)">3</text>
<text x="1012.00" y="1405.61" font-size="16.5" text-anchor="end" font-weight="bold" fill="#000" transform="translate(1012.00 0) scale(0.95 1) translate(-1012.00 0)">4</text>
<text x="1012.00" y="1354.11" font-size="16.5" text-anchor="end" font-weight="bold" fill="#000" transform="translate(1012.00 0) scale(0.95 1) translate(-1012.00 0)">5</text>
<path d="M1063.25 1604.50V1612.50M1122.50 1604.50V1612.50M1182.00 1604.50V1612.50M1241.25 1604.50V1612.50" stroke="#000" stroke-width="2.2"/>
<text x="1066.25" y="1625.50" font-size="15.5" text-anchor="end" font-weight="bold" fill="#000" transform="rotate(-45 1066.25 1625.50)">24hr low</text>
<text x="1125.50" y="1625.50" font-size="15.5" text-anchor="end" font-weight="bold" fill="#000" transform="rotate(-45 1125.50 1625.50)">24hr low, 2hr high</text>
<text x="1185.00" y="1625.50" font-size="15.5" text-anchor="end" font-weight="bold" fill="#000" transform="rotate(-45 1185.00 1625.50)">24hr low, 4hr high</text>
<text x="1244.25" y="1625.50" font-size="15.5" text-anchor="end" font-weight="bold" fill="#000" transform="rotate(-45 1244.25 1625.50)">24hr low, 6hr high</text>
<text x="1152.75" y="1751.25" font-size="19.5" text-anchor="middle" font-weight="bold" fill="#000" >Shear stress</text>
<text x="0.00" y="0.00" font-size="19.5" text-anchor="middle" font-weight="bold" fill="#000" transform="translate(978.27 1476.90) rotate(-90)">Fold increase from low shear stress</text>
<text x="1356.00" y="1271.00" font-size="31" text-anchor="start" font-weight="bold" fill="#000" >I</text>
<text x="1577.00" y="1292.00" font-size="29" text-anchor="middle" font-weight="bold" fill="#000" transform="translate(1577.00 0) scale(0.96 1) translate(-1577.00 0)">FBLN-5</text>
<rect x="1469.85" y="1579.80" width="35.30" height="24.45" fill="#d9d9d9" stroke="#000" stroke-width="2.7"/>
<rect x="1529.85" y="1568.96" width="35.30" height="35.29" fill="#fff" stroke="#000" stroke-width="2.7"/>
<rect x="1589.85" y="1548.84" width="35.30" height="55.41" fill="#fff" stroke="#000" stroke-width="2.7"/>
<rect x="1649.35" y="1516.59" width="35.30" height="87.66" fill="#fff" stroke="#000" stroke-width="2.7"/>
<line x1="1450.00" y1="1578.45" x2="1707.00" y2="1578.45" stroke="#e79aa2" stroke-width="2.4" stroke-dasharray="2.4 2.4"/>
<path d="M1487.50 1579.74V1575.87M1477.50 1575.87H1497.50M1477.50 1579.74H1497.50" stroke="#5e5e5e" stroke-width="1.8" fill="none"/>
<path d="M1547.50 1570.71V1564.26M1537.50 1564.26H1557.50M1537.50 1570.71H1557.50" stroke="#5e5e5e" stroke-width="1.8" fill="none"/>
<path d="M1607.50 1552.65V1539.75M1597.50 1539.75H1617.50M1597.50 1552.65H1617.50" stroke="#5e5e5e" stroke-width="1.8" fill="none"/>
<path d="M1667.00 1534.59V1493.31M1657.00 1493.31H1677.00M1657.00 1534.59H1677.00" stroke="#5e5e5e" stroke-width="1.8" fill="none"/>
<circle cx="1475.50" cy="1572.00" r="3.0"/>
<circle cx="1487.50" cy="1574.58" r="3.0"/>
<circle cx="1499.50" cy="1577.16" r="3.0"/>
<circle cx="1475.50" cy="1583.61" r="3.0"/>
<circle cx="1535.50" cy="1561.68" r="3.0"/>
<circle cx="1547.50" cy="1564.26" r="3.0"/>
<circle cx="1559.50" cy="1564.26" r="3.0"/>
<circle cx="1547.50" cy="1574.58" r="3.0"/>
<circle cx="1607.50" cy="1532.01" r="3.0"/>
<circle cx="1607.50" cy="1542.33" r="3.0"/>
<circle cx="1601.50" cy="1555.23" r="3.0"/>
<circle cx="1613.50" cy="1555.23" r="3.0"/>
<circle cx="1667.00" cy="1464.93" r="3.0"/>
<circle cx="1667.00" cy="1498.47" r="3.0"/>
<circle cx="1667.00" cy="1542.33" r="3.0"/>
<circle cx="1667.00" cy="1551.36" r="3.0"/>
<path d="M1448.00 1346.25V1604.25M1439.50 1604.25H1707.00" stroke="#000" stroke-width="2.2" fill="none"/>
<path d="M1440.00 1604.25H1448.00M1440.00 1552.65H1448.00M1440.00 1501.05H1448.00M1440.00 1449.45H1448.00M1440.00 1397.85H1448.00M1440.00 1346.25H1448.00" stroke="#000" stroke-width="2.2"/>
<text x="1437.50" y="1611.36" font-size="16.5" text-anchor="end" font-weight="bold" fill="#000" transform="translate(1437.50 0) scale(0.95 1) translate(-1437.50 0)">0</text>
<text x="1437.50" y="1585.56" font-size="16.5" text-anchor="end" font-weight="bold" fill="#000" transform="translate(1437.50 0) scale(0.95 1) translate(-1437.50 0)">1</text>
<text x="1437.50" y="1559.76" font-size="16.5" text-anchor="end" font-weight="bold" fill="#000" transform="translate(1437.50 0) scale(0.95 1) translate(-1437.50 0)">2</text>
<text x="1437.50" y="1508.16" font-size="16.5" text-anchor="end" font-weight="bold" fill="#000" transform="translate(1437.50 0) scale(0.95 1) translate(-1437.50 0)">4</text>
<text x="1437.50" y="1456.56" font-size="16.5" text-anchor="end" font-weight="bold" fill="#000" transform="translate(1437.50 0) scale(0.95 1) translate(-1437.50 0)">6</text>
<text x="1437.50" y="1404.96" font-size="16.5" text-anchor="end" font-weight="bold" fill="#000" transform="translate(1437.50 0) scale(0.95 1) translate(-1437.50 0)">8</text>
<text x="1437.50" y="1353.36" font-size="16.5" text-anchor="end" font-weight="bold" fill="#000" transform="translate(1437.50 0) scale(0.95 1) translate(-1437.50 0)">10</text>
<path d="M1487.50 1604.25V1612.25M1547.50 1604.25V1612.25M1607.50 1604.25V1612.25M1667.00 1604.25V1612.25" stroke="#000" stroke-width="2.2"/>
<text x="1490.50" y="1625.25" font-size="15.5" text-anchor="end" font-weight="bold" fill="#000" transform="rotate(-45 1490.50 1625.25)">24hr low</text>
<text x="1550.50" y="1625.25" font-size="15.5" text-anchor="end" font-weight="bold" fill="#000" transform="rotate(-45 1550.50 1625.25)">24hr low, 2hr high</text>
<text x="1610.50" y="1625.25" font-size="15.5" text-anchor="end" font-weight="bold" fill="#000" transform="rotate(-45 1610.50 1625.25)">24hr low, 4hr high</text>
<text x="1670.00" y="1625.25" font-size="15.5" text-anchor="end" font-weight="bold" fill="#000" transform="rotate(-45 1670.00 1625.25)">24hr low, 6hr high</text>
<line x1="1581.25" y1="1390" x2="1686.25" y2="1390" stroke="#000" stroke-width="2.6"/>
<text x="1633.75" y="1391.25" font-size="32" text-anchor="middle" font-weight="bold" fill="#000" >*</text>
<text x="1577.50" y="1753.75" font-size="19.5" text-anchor="middle" font-weight="bold" fill="#000" >Shear stress</text>
<text x="0.00" y="0.00" font-size="19.5" text-anchor="middle" font-weight="bold" fill="#000" transform="translate(1385.77 1475.00) rotate(-90)">Fold increase from low shear stress</text>
<text x="110.00" y="1818.00" font-size="31" text-anchor="start" font-weight="bold" fill="#000" >J</text>
<text x="327.25" y="1860.50" font-size="29" text-anchor="middle" font-weight="bold" fill="#000" transform="translate(327.25 0) scale(0.96 1) translate(-327.25 0)">LOX-1</text>
<rect x="221.10" y="2152.42" width="35.30" height="7.08" fill="#d9d9d9" stroke="#000" stroke-width="2.7"/>
<rect x="281.10" y="2155.66" width="35.30" height="3.84" fill="#fff" stroke="#000" stroke-width="2.7"/>
<rect x="340.60" y="2081.05" width="35.30" height="78.45" fill="#fff" stroke="#000" stroke-width="2.7"/>
<rect x="399.85" y="2058.35" width="35.30" height="101.15" fill="#fff" stroke="#000" stroke-width="2.7"/>
<line x1="202.00" y1="2153.01" x2="456.25" y2="2153.01" stroke="#e79aa2" stroke-width="2.4" stroke-dasharray="2.4 2.4"/>
<path d="M238.75 2154.31V2145.88M228.75 2145.88H248.75M228.75 2154.31H248.75" stroke="#5e5e5e" stroke-width="1.8" fill="none"/>
<path d="M298.75 2155.61V2153.01M288.75 2153.01H308.75M288.75 2155.61H308.75" stroke="#5e5e5e" stroke-width="1.8" fill="none"/>
<path d="M358.25 2109.55V2047.27M348.25 2047.27H368.25M348.25 2109.55H368.25" stroke="#5e5e5e" stroke-width="1.8" fill="none"/>
<path d="M417.50 2103.06V2010.29M407.50 2010.29H427.50M407.50 2103.06H427.50" stroke="#5e5e5e" stroke-width="1.8" fill="none"/>
<circle cx="238.75" cy="2139.39" r="3.0"/>
<circle cx="238.75" cy="2149.77" r="3.0"/>
<circle cx="244.75" cy="2153.01" r="3.0"/>
<circle cx="232.75" cy="2157.55" r="3.0"/>
<circle cx="286.75" cy="2149.77" r="3.0"/>
<circle cx="298.75" cy="2151.07" r="3.0"/>
<circle cx="310.75" cy="2151.07" r="3.0"/>
<circle cx="298.75" cy="2156.26" r="3.0"/>
<circle cx="358.25" cy="1993.42" r="3.0"/>
<circle cx="358.25" cy="2071.92" r="3.0"/>
<circle cx="358.25" cy="2114.09" r="3.0"/>
<circle cx="358.25" cy="2133.55" r="3.0"/>
<circle cx="417.50" cy="1931.79" r="3.0"/>
<circle cx="417.50" cy="2040.78" r="3.0"/>
<circle cx="417.50" cy="2112.79" r="3.0"/>
<circle cx="417.50" cy="2140.04" r="3.0"/>
<path d="M200.00 1900.00V2159.50M191.25 2159.50H456.25" stroke="#000" stroke-width="2.2" fill="none"/>
<path d="M192.00 2159.50H200.00M192.00 2094.62H200.00M192.00 2029.75H200.00M192.00 1964.88H200.00M192.00 1900.00H200.00" stroke="#000" stroke-width="2.2"/>
<text x="189.50" y="2166.61" font-size="16.5" text-anchor="end" font-weight="bold" fill="#000" transform="translate(189.50 0) scale(0.95 1) translate(-189.50 0)">0</text>
<text x="189.50" y="2160.12" font-size="16.5" text-anchor="end" font-weight="bold" fill="#000" transform="translate(189.50 0) scale(0.95 1) translate(-189.50 0)">1</text>
<text x="189.50" y="2101.73" font-size="16.5" text-anchor="end" font-weight="bold" fill="#000" transform="translate(189.50 0) scale(0.95 1) translate(-189.50 0)">10</text>
<text x="189.50" y="2036.86" font-size="16.5" text-anchor="end" font-weight="bold" fill="#000" transform="translate(189.50 0) scale(0.95 1) translate(-189.50 0)">20</text>
<text x="189.50" y="1971.98" font-size="16.5" text-anchor="end" font-weight="bold" fill="#000" transform="translate(189.50 0) scale(0.95 1) translate(-189.50 0)">30</text>
<text x="189.50" y="1907.11" font-size="16.5" text-anchor="end" font-weight="bold" fill="#000" transform="translate(189.50 0) scale(0.95 1) translate(-189.50 0)">40</text>
<path d="M238.75 2159.50V2167.50M298.75 2159.50V2167.50M358.25 2159.50V2167.50M417.50 2159.50V2167.50" stroke="#000" stroke-width="2.2"/>
<text x="241.75" y="2180.50" font-size="15.5" text-anchor="end" font-weight="bold" fill="#000" transform="rotate(-45 241.75 2180.50)">24hr low</text>
<text x="301.75" y="2180.50" font-size="15.5" text-anchor="end" font-weight="bold" fill="#000" transform="rotate(-45 301.75 2180.50)">24hr low, 2hr high</text>
<text x="361.25" y="2180.50" font-size="15.5" text-anchor="end" font-weight="bold" fill="#000" transform="rotate(-45 361.25 2180.50)">24hr low, 4hr high</text>
<text x="420.50" y="2180.50" font-size="15.5" text-anchor="end" font-weight="bold" fill="#000" transform="rotate(-45 420.50 2180.50)">24hr low, 6hr high</text>
<line x1="340.75" y1="1905" x2="429.5" y2="1905" stroke="#000" stroke-width="2.6"/>
<text x="383.75" y="1906.25" font-size="32" text-anchor="middle" font-weight="bold" fill="#000" >*</text>
<text x="327.75" y="2320.70" font-size="19.5" text-anchor="middle" font-weight="bold" fill="#000" >Shear stress</text>
<text x="0.00" y="0.00" font-size="19.5" text-anchor="middle" font-weight="bold" fill="#000" transform="translate(144.02 2030.60) rotate(-90)">Fold increase from low shear stress</text>
<text x="539.50" y="1818.00" font-size="31" text-anchor="start" font-weight="bold" fill="#000" >K</text>
<text x="748.75" y="1848.00" font-size="29" text-anchor="middle" font-weight="bold" fill="#000" transform="translate(748.75 0) scale(0.96 1) translate(-748.75 0)">Tropoelastin</text>
<rect x="639.35" y="2159.13" width="35.30" height="0.50" fill="#d9d9d9" stroke="#000" stroke-width="2.7"/>
<rect x="699.10" y="2158.27" width="35.30" height="1.23" fill="#fff" stroke="#000" stroke-width="2.7"/>
<rect x="758.60" y="2066.16" width="35.30" height="93.34" fill="#fff" stroke="#000" stroke-width="2.7"/>
<rect x="818.10" y="2119.53" width="35.30" height="39.97" fill="#fff" stroke="#000" stroke-width="2.7"/>
<line x1="619.50" y1="2157.78" x2="876.25" y2="2157.78" stroke="#e79aa2" stroke-width="2.4" stroke-dasharray="2.4 2.4"/>
<path d="M657.00 2157.95V2157.61M647.00 2157.61H667.00M647.00 2157.95H667.00" stroke="#5e5e5e" stroke-width="1.8" fill="none"/>
<path d="M716.75 2158.64V2155.20M706.75 2155.20H726.75M706.75 2158.64H726.75" stroke="#5e5e5e" stroke-width="1.8" fill="none"/>
<path d="M776.25 2107.85V2020.05M766.25 2020.05H786.25M766.25 2107.85H786.25" stroke="#5e5e5e" stroke-width="1.8" fill="none"/>
<path d="M835.75 2128.51V2104.41M825.75 2104.41H845.75M825.75 2128.51H845.75" stroke="#5e5e5e" stroke-width="1.8" fill="none"/>
<circle cx="641.00" cy="2158.64" r="3.0"/>
<circle cx="652.00" cy="2158.64" r="3.0"/>
<circle cx="662.00" cy="2158.64" r="3.0"/>
<circle cx="673.00" cy="2158.64" r="3.0"/>
<circle cx="702.75" cy="2158.64" r="3.0"/>
<circle cx="716.75" cy="2156.92" r="3.0"/>
<circle cx="724.75" cy="2157.78" r="3.0"/>
<circle cx="732.75" cy="2150.89" r="3.0"/>
<circle cx="776.25" cy="1946.01" r="3.0"/>
<circle cx="776.25" cy="2047.59" r="3.0"/>
<circle cx="776.25" cy="2123.34" r="3.0"/>
<circle cx="776.25" cy="2138.84" r="3.0"/>
<circle cx="835.75" cy="2083.75" r="3.0"/>
<circle cx="835.75" cy="2113.01" r="3.0"/>
<circle cx="835.75" cy="2130.23" r="3.0"/>
<circle cx="835.75" cy="2140.56" r="3.0"/>
<path d="M617.50 1901.25V2159.50M608.75 2159.50H876.25" stroke="#000" stroke-width="2.2" fill="none"/>
<path d="M609.50 2159.50H617.50M609.50 2073.42H617.50M609.50 1987.33H617.50M609.50 1901.25H617.50" stroke="#000" stroke-width="2.2"/>
<text x="607.00" y="2166.61" font-size="16.5" text-anchor="end" font-weight="bold" fill="#000" transform="translate(607.00 0) scale(0.95 1) translate(-607.00 0)">0</text>
<text x="607.00" y="2080.52" font-size="16.5" text-anchor="end" font-weight="bold" fill="#000" transform="translate(607.00 0) scale(0.95 1) translate(-607.00 0)">50</text>
<text x="607.00" y="1994.44" font-size="16.5" text-anchor="end" font-weight="bold" fill="#000" transform="translate(607.00 0) scale(0.95 1) translate(-607.00 0)">100</text>
<text x="607.00" y="1908.36" font-size="16.5" text-anchor="end" font-weight="bold" fill="#000" transform="translate(607.00 0) scale(0.95 1) translate(-607.00 0)">150</text>
<path d="M657.00 2159.50V2167.50M716.75 2159.50V2167.50M776.25 2159.50V2167.50M835.75 2159.50V2167.50" stroke="#000" stroke-width="2.2"/>
<text x="660.00" y="2180.50" font-size="15.5" text-anchor="end" font-weight="bold" fill="#000" transform="rotate(-45 660.00 2180.50)">24hr low</text>
<text x="719.75" y="2180.50" font-size="15.5" text-anchor="end" font-weight="bold" fill="#000" transform="rotate(-45 719.75 2180.50)">24hr low, 2hr high</text>
<text x="779.25" y="2180.50" font-size="15.5" text-anchor="end" font-weight="bold" fill="#000" transform="rotate(-45 779.25 2180.50)">24hr low, 4hr high</text>
<text x="838.75" y="2180.50" font-size="15.5" text-anchor="end" font-weight="bold" fill="#000" transform="rotate(-45 838.75 2180.50)">24hr low, 6hr high</text>
<line x1="732" y1="1913.75" x2="860" y2="1913.75" stroke="#000" stroke-width="2.6"/>
<text x="795.00" y="1916.25" font-size="32" text-anchor="middle" font-weight="bold" fill="#000" >*</text>
<text x="741.00" y="2309.90" font-size="19.5" text-anchor="middle" font-weight="bold" fill="#000" >Shear stress</text>
<text x="0.00" y="0.00" font-size="19.5" text-anchor="middle" font-weight="bold" fill="#000" transform="translate(559.52 2031.90) rotate(-90)">Fold increase from low shear stress</text>
<text x="953.75" y="1818.00" font-size="31" text-anchor="start" font-weight="bold" fill="#000" >L</text>
<text x="1149.00" y="1851.25" font-size="29" text-anchor="middle" font-weight="bold" fill="#000" transform="translate(1149.00 0) scale(0.96 1) translate(-1149.00 0)">Col-1</text>
<rect x="1043.10" y="2159.34" width="35.30" height="3.16" fill="#d9d9d9" stroke="#000" stroke-width="2.7"/>
<rect x="1102.35" y="2141.28" width="35.30" height="21.22" fill="#fff" stroke="#000" stroke-width="2.7"/>
<rect x="1161.85" y="2120.63" width="35.30" height="41.87" fill="#fff" stroke="#000" stroke-width="2.7"/>
<rect x="1221.10" y="2052.91" width="35.30" height="109.59" fill="#fff" stroke="#000" stroke-width="2.7"/>
<line x1="1023.25" y1="2156.05" x2="1278.75" y2="2156.05" stroke="#e79aa2" stroke-width="2.4" stroke-dasharray="2.4 2.4"/>
<path d="M1060.75 2160.57V2154.11M1050.75 2154.11H1070.75M1050.75 2160.57H1070.75" stroke="#5e5e5e" stroke-width="1.8" fill="none"/>
<path d="M1120.00 2160.57V2118.64M1110.00 2118.64H1130.00M1110.00 2160.57H1130.00" stroke="#5e5e5e" stroke-width="1.8" fill="none"/>
<path d="M1179.50 2140.57V2096.07M1169.50 2096.07H1189.50M1169.50 2140.57H1189.50" stroke="#5e5e5e" stroke-width="1.8" fill="none"/>
<path d="M1238.75 2084.45V2015.44M1228.75 2015.44H1248.75M1228.75 2084.45H1248.75" stroke="#5e5e5e" stroke-width="1.8" fill="none"/>
<circle cx="1060.75" cy="2148.31" r="3.0"/>
<circle cx="1048.75" cy="2159.92" r="3.0"/>
<circle cx="1060.75" cy="2159.28" r="3.0"/>
<circle cx="1072.75" cy="2159.92" r="3.0"/>
<circle cx="1120.00" cy="2077.36" r="3.0"/>
<circle cx="1120.00" cy="2156.05" r="3.0"/>
<circle cx="1108.00" cy="2161.21" r="3.0"/>
<circle cx="1132.00" cy="2160.57" r="3.0"/>
<circle cx="1179.50" cy="2077.36" r="3.0"/>
<circle cx="1179.50" cy="2127.67" r="3.0"/>
<circle cx="1179.50" cy="2150.89" r="3.0"/>
<circle cx="1238.75" cy="1949.65" r="3.0"/>
<circle cx="1238.75" cy="2062.53" r="3.0"/>
<circle cx="1238.75" cy="2081.88" r="3.0"/>
<circle cx="1238.75" cy="2106.39" r="3.0"/>
<path d="M1021.25 1904.50V2162.50M1013.00 2162.50H1278.75" stroke="#000" stroke-width="2.2" fill="none"/>
<path d="M1013.25 2162.50H1021.25M1013.25 2098.00H1021.25M1013.25 2033.50H1021.25M1013.25 1969.00H1021.25M1013.25 1904.50H1021.25" stroke="#000" stroke-width="2.2"/>
<text x="1010.75" y="2169.61" font-size="16.5" text-anchor="end" font-weight="bold" fill="#000" transform="translate(1010.75 0) scale(0.95 1) translate(-1010.75 0)">0</text>
<text x="1010.75" y="2163.16" font-size="16.5" text-anchor="end" font-weight="bold" fill="#000" transform="translate(1010.75 0) scale(0.95 1) translate(-1010.75 0)">1</text>
<text x="1010.75" y="2105.11" font-size="16.5" text-anchor="end" font-weight="bold" fill="#000" transform="translate(1010.75 0) scale(0.95 1) translate(-1010.75 0)">10</text>
<text x="1010.75" y="2040.61" font-size="16.5" text-anchor="end" font-weight="bold" fill="#000" transform="translate(1010.75 0) scale(0.95 1) translate(-1010.75 0)">20</text>
<text x="1010.75" y="1976.11" font-size="16.5" text-anchor="end" font-weight="bold" fill="#000" transform="translate(1010.75 0) scale(0.95 1) translate(-1010.75 0)">30</text>
<text x="1010.75" y="1911.61" font-size="16.5" text-anchor="end" font-weight="bold" fill="#000" transform="translate(1010.75 0) scale(0.95 1) translate(-1010.75 0)">40</text>
<path d="M1060.75 2162.50V2170.50M1120.00 2162.50V2170.50M1179.50 2162.50V2170.50M1238.75 2162.50V2170.50" stroke="#000" stroke-width="2.2"/>
<text x="1063.75" y="2183.50" font-size="15.5" text-anchor="end" font-weight="bold" fill="#000" transform="rotate(-45 1063.75 2183.50)">24hr low</text>
<text x="1123.00" y="2183.50" font-size="15.5" text-anchor="end" font-weight="bold" fill="#000" transform="rotate(-45 1123.00 2183.50)">24hr low, 2hr high</text>
<text x="1182.50" y="2183.50" font-size="15.5" text-anchor="end" font-weight="bold" fill="#000" transform="rotate(-45 1182.50 2183.50)">24hr low, 4hr high</text>
<text x="1241.75" y="2183.50" font-size="15.5" text-anchor="end" font-weight="bold" fill="#000" transform="rotate(-45 1241.75 2183.50)">24hr low, 6hr high</text>
<text x="1238.75" y="1927.25" font-size="36" text-anchor="middle" font-weight="bold" fill="#000" >*</text>
<text x="1132.25" y="2310.00" font-size="19.5" text-anchor="middle" font-weight="bold" fill="#000" >Shear stress</text>
<text x="0.00" y="0.00" font-size="19.5" text-anchor="middle" font-weight="bold" fill="#000" transform="translate(973.92 2034.40) rotate(-90)">Fold increase from low shear stress</text>
<text x="1358.00" y="1817.50" font-size="31" text-anchor="start" font-weight="bold" fill="#000" >M</text>
<text x="1554.60" y="1850.00" font-size="29" text-anchor="middle" font-weight="bold" fill="#000" transform="translate(1554.60 0) scale(0.96 1) translate(-1554.60 0)">Col-3</text>
<rect x="1447.35" y="2138.53" width="35.30" height="8.97" fill="#d9d9d9" stroke="#000" stroke-width="2.7"/>
<rect x="1506.85" y="2142.40" width="35.30" height="5.10" fill="#fff" stroke="#000" stroke-width="2.7"/>
<rect x="1566.60" y="2075.96" width="35.30" height="71.54" fill="#fff" stroke="#000" stroke-width="2.7"/>
<rect x="1626.10" y="2035.97" width="35.30" height="111.53" fill="#fff" stroke="#000" stroke-width="2.7"/>
<line x1="1428.25" y1="2141.05" x2="1683.00" y2="2141.05" stroke="#e79aa2" stroke-width="2.4" stroke-dasharray="2.4 2.4"/>
<path d="M1465.00 2145.57V2128.80M1455.00 2128.80H1475.00M1455.00 2145.57H1475.00" stroke="#5e5e5e" stroke-width="1.8" fill="none"/>
<path d="M1524.50 2142.34V2139.11M1514.50 2139.11H1534.50M1514.50 2142.34H1534.50" stroke="#5e5e5e" stroke-width="1.8" fill="none"/>
<path d="M1584.25 2084.29V2063.01M1574.25 2063.01H1594.25M1574.25 2084.29H1594.25" stroke="#5e5e5e" stroke-width="1.8" fill="none"/>
<path d="M1643.75 2079.78V1988.18M1633.75 1988.18H1653.75M1633.75 2079.78H1653.75" stroke="#5e5e5e" stroke-width="1.8" fill="none"/>
<circle cx="1465.00" cy="2115.25" r="3.0"/>
<circle cx="1465.00" cy="2139.76" r="3.0"/>
<circle cx="1453.00" cy="2146.21" r="3.0"/>
<circle cx="1477.00" cy="2142.34" r="3.0"/>
<circle cx="1524.50" cy="2139.11" r="3.0"/>
<circle cx="1536.50" cy="2135.24" r="3.0"/>
<circle cx="1512.50" cy="2142.34" r="3.0"/>
<circle cx="1524.50" cy="2142.34" r="3.0"/>
<circle cx="1584.25" cy="2046.88" r="3.0"/>
<circle cx="1584.25" cy="2070.10" r="3.0"/>
<circle cx="1584.25" cy="2081.07" r="3.0"/>
<circle cx="1584.25" cy="2097.19" r="3.0"/>
<circle cx="1643.75" cy="1913.37" r="3.0"/>
<circle cx="1643.75" cy="2015.28" r="3.0"/>
<circle cx="1643.75" cy="2089.45" r="3.0"/>
<circle cx="1643.75" cy="2117.18" r="3.0"/>
<path d="M1426.25 1889.50V2147.50M1418.00 2147.50H1683.00" stroke="#000" stroke-width="2.2" fill="none"/>
<path d="M1418.25 2147.50H1426.25M1418.25 2083.00H1426.25M1418.25 2018.50H1426.25M1418.25 1954.00H1426.25M1418.25 1889.50H1426.25" stroke="#000" stroke-width="2.2"/>
<text x="1415.75" y="2154.61" font-size="16.5" text-anchor="end" font-weight="bold" fill="#000" transform="translate(1415.75 0) scale(0.95 1) translate(-1415.75 0)">0</text>
<text x="1415.75" y="2148.16" font-size="16.5" text-anchor="end" font-weight="bold" fill="#000" transform="translate(1415.75 0) scale(0.95 1) translate(-1415.75 0)">1</text>
<text x="1415.75" y="2090.11" font-size="16.5" text-anchor="end" font-weight="bold" fill="#000" transform="translate(1415.75 0) scale(0.95 1) translate(-1415.75 0)">10</text>
<text x="1415.75" y="2025.61" font-size="16.5" text-anchor="end" font-weight="bold" fill="#000" transform="translate(1415.75 0) scale(0.95 1) translate(-1415.75 0)">20</text>
<text x="1415.75" y="1961.11" font-size="16.5" text-anchor="end" font-weight="bold" fill="#000" transform="translate(1415.75 0) scale(0.95 1) translate(-1415.75 0)">30</text>
<text x="1415.75" y="1896.61" font-size="16.5" text-anchor="end" font-weight="bold" fill="#000" transform="translate(1415.75 0) scale(0.95 1) translate(-1415.75 0)">40</text>
<path d="M1465.00 2147.50V2155.50M1524.50 2147.50V2155.50M1584.25 2147.50V2155.50M1643.75 2147.50V2155.50" stroke="#000" stroke-width="2.2"/>
<text x="1468.00" y="2168.50" font-size="15.5" text-anchor="end" font-weight="bold" fill="#000" transform="rotate(-45 1468.00 2168.50)">24hr low</text>
<text x="1527.50" y="2168.50" font-size="15.5" text-anchor="end" font-weight="bold" fill="#000" transform="rotate(-45 1527.50 2168.50)">24hr low, 2hr high</text>
<text x="1587.25" y="2168.50" font-size="15.5" text-anchor="end" font-weight="bold" fill="#000" transform="rotate(-45 1587.25 2168.50)">24hr low, 4hr high</text>
<text x="1646.75" y="2168.50" font-size="15.5" text-anchor="end" font-weight="bold" fill="#000" transform="rotate(-45 1646.75 2168.50)">24hr low, 6hr high</text>
<line x1="1562.5" y1="1893.25" x2="1666.25" y2="1893.25" stroke="#000" stroke-width="2.6"/>
<text x="1614.50" y="1895.00" font-size="32" text-anchor="middle" font-weight="bold" fill="#000" >*</text>
<text x="1525.90" y="2296.25" font-size="19.5" text-anchor="middle" font-weight="bold" fill="#000" >Shear stress</text>
<text x="0.00" y="0.00" font-size="19.5" text-anchor="middle" font-weight="bold" fill="#000" transform="translate(1375.82 2020.25) rotate(-90)">Fold increase from low shear stress</text>
<rect x="5" y="2346.5" width="1762" height="3" fill="#d2d2d2"/>
</svg>
</body></html>
